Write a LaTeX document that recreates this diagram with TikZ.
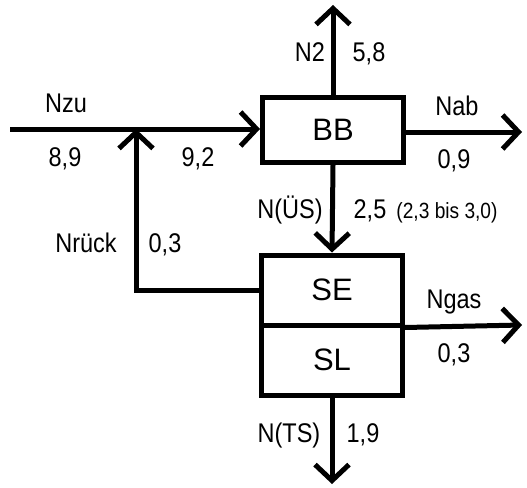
\documentclass[tikz,border=0pt]{standalone}
\usepackage{fontspec}
\setmainfont{Liberation Sans}
\newfontfamily\narrowsans[FakeStretch=0.87]{Liberation Sans}
\usetikzlibrary{arrows.meta}
\begin{document}
\begin{tikzpicture}[x=1pt,y=-1pt,
  flow/.style={line width=5pt,-{Straight Barb[length=16pt,width=34pt]}},
  plain/.style={line width=5pt},
  unit/.style={draw,line width=5pt,minimum width=141pt,minimum height=65pt,inner sep=0pt,font=\fontsize{31}{36}\selectfont},
  lbl/.style={inner sep=0pt,anchor=base,font=\narrowsans\fontsize{27}{32}\selectfont},
  small/.style={inner sep=0pt,anchor=base,font=\narrowsans\fontsize{22}{26}\selectfont}]
\useasboundingbox (0,0) rectangle (527,487);
% units
\node[unit] (BB) at (333,130) {BB};
\node[unit,minimum height=70pt] (SE) at (332,290) {SE};
\node[unit,minimum height=70pt] (SL) at (332,360) {SL};
% free ends
\coordinate (zu) at (10,129);
\coordinate (junc) at (136,129);
\coordinate (n2end) at (333,5);
\coordinate (nabend) at (522,132);
\coordinate (ngasend) at (522,325);
\coordinate (tsend) at (332,484);
% connectors
\draw[plain] (zu) -- (junc);
\draw[flow] (junc) -- (BB.west |- junc);
\draw[flow] (SE.west) -| (junc);
\draw[flow] (BB.north) -- (n2end);
\draw[flow] (BB.east |- nabend) -- (nabend);
\draw[flow] (BB.south) -- (SE.north);
\draw[flow] (SE.south east) -- (ngasend);
\draw[flow] (SL.south) -- (tsend);
% labels
\node[lbl] (lN2) at (310,62) {N2};
\node[lbl] (v58) at (369,62) {5,8};
\node[lbl] (lNzu) at (66,112) {Nzu};
\node[lbl] (v89) at (65,166) {8,9};
\node[lbl] (v92) at (198,166) {9,2};
\node[lbl] (lNab) at (457,115) {Nab};
\node[lbl] (v09) at (454,168) {0,9};
\node[lbl] (lNUS) at (290,218) {N(ÜS)};
\node[lbl] (v25) at (370,218) {2,5};
\node[small] (range) at (447,218) {(2,3 bis 3,0)};
\node[lbl] (lNr) at (86,252) {Nrück};
\node[lbl] (v03a) at (165,252) {0,3};
\node[lbl] (lNgas) at (454,308) {Ngas};
\node[lbl] (v03b) at (454,362) {0,3};
\node[lbl] (lNTS) at (289,442) {N(TS)};
\node[lbl] (v19) at (363,442) {1,9};
\end{tikzpicture}
\end{document}
